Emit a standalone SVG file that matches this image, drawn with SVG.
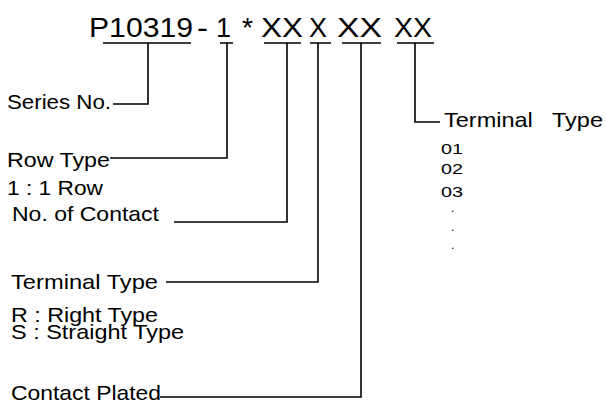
<svg xmlns="http://www.w3.org/2000/svg" width="606" height="403" viewBox="0 0 606 403">
<style>
.t{font-family:"Liberation Sans",Arial,sans-serif;fill:#000}
.lbl{font-size:21px}
.sm{font-size:15.5px}
.dot{font-size:12px}
.ttl{font-size:27px}
.c{fill:none;stroke:#000;stroke-width:1.6}
</style>
<rect width="606" height="403" fill="#fff"/>
<g id="title">
<text class="t ttl" y="37"><tspan x="89" textLength="104" lengthAdjust="spacingAndGlyphs">P10319</tspan><tspan x="197" textLength="11" lengthAdjust="spacingAndGlyphs">-</tspan><tspan x="216">1</tspan><tspan x="242" textLength="11" lengthAdjust="spacingAndGlyphs">*</tspan><tspan x="261" textLength="42" lengthAdjust="spacingAndGlyphs">XX</tspan><tspan x="309" textLength="18" lengthAdjust="spacingAndGlyphs">X</tspan><tspan x="337" textLength="45" lengthAdjust="spacingAndGlyphs">XX</tspan><tspan x="394" textLength="38" lengthAdjust="spacingAndGlyphs">XX</tspan></text>
</g>
<g id="connectors" class="c">
<path d="M103,43H191M220,43H233M264,43H301M310,43H331M342,43H381M397,43H434"/>
<path d="M148,43V104H113"/>
<path d="M227,43V158H110"/>
<path d="M287,43V222H174"/>
<path d="M318,43V282H166"/>
<path d="M361,43V397H160"/>
<path d="M415,43V122H440"/>
</g>
<g id="series"><text class="t lbl" x="7" y="109" textLength="104" lengthAdjust="spacingAndGlyphs">Series No.</text></g>
<g id="row"><text class="t lbl" x="7" y="167" textLength="103" lengthAdjust="spacingAndGlyphs">Row Type</text>
<text class="t lbl" x="7" y="195" textLength="96" lengthAdjust="spacingAndGlyphs">1 : 1 Row</text></g>
<g id="contact"><text class="t lbl" x="12" y="221" textLength="147" lengthAdjust="spacingAndGlyphs">No. of Contact</text></g>
<g id="terminal"><text class="t lbl" x="11" y="289" textLength="147" lengthAdjust="spacingAndGlyphs">Terminal Type</text>
<text class="t lbl" x="11" y="322" textLength="147" lengthAdjust="spacingAndGlyphs">R : Right Type</text>
<text class="t lbl" x="11" y="339" textLength="173" lengthAdjust="spacingAndGlyphs">S : Straight Type</text></g>
<g id="plated"><text class="t lbl" x="11" y="400" textLength="150" lengthAdjust="spacingAndGlyphs">Contact Plated</text></g>
<g id="terminal2"><text class="t lbl" x="444" y="127" textLength="159" lengthAdjust="spacingAndGlyphs" xml:space="preserve">Terminal   Type</text>
<text class="t sm" x="441" y="154" textLength="22" lengthAdjust="spacingAndGlyphs">01</text>
<text class="t sm" x="441" y="174" textLength="22" lengthAdjust="spacingAndGlyphs">02</text>
<text class="t sm" x="441" y="197" textLength="22" lengthAdjust="spacingAndGlyphs">03</text>
<text class="t dot" x="451" y="212">.</text>
<text class="t dot" x="451" y="231">.</text>
<text class="t dot" x="451" y="249">.</text></g>
</svg>
